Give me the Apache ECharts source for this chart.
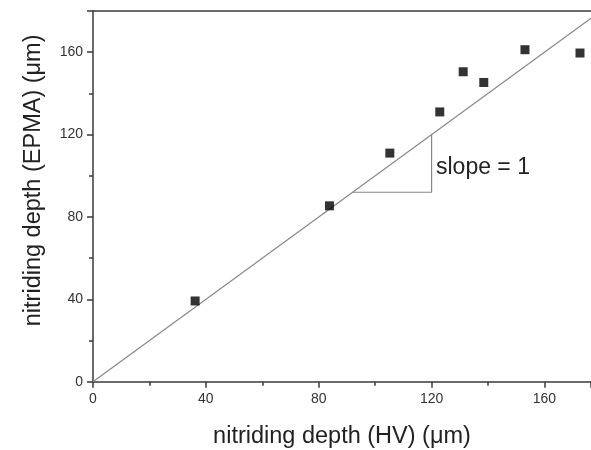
<!DOCTYPE html>
<html>
<head>
<meta charset="utf-8">
<script src="https://cdn.jsdelivr.net/npm/echarts@6/dist/echarts.min.js"></script>
<style>
html,body{margin:0;padding:0;background:#fff;}
#chart{width:591px;height:450px;}
</style>
</head>
<body>
<div id="chart"></div>
<script>
// Data
var hvDepth   = [36.2, 83.8, 105.2, 122.9, 131.2, 138.5, 153.1, 172.6];
var epmaDepth = [39.2, 85.4, 111.0, 131.0, 150.5, 145.3, 161.2, 159.6];
var unityLine = [[0, 0], [180, 180]];
var slopeTriangle = [[92, 92], [120, 92], [120, 120]];
var xTicks = [0, 40, 80, 120, 160];
var yTicks = [0, 40, 80, 120, 160];

var points = hvDepth.map(function (x, i) { return [x, epmaDepth[i]]; });

var chart = echarts.init(document.getElementById('chart'), null, {renderer: 'canvas'});
var font = 'Liberation Sans, Arial, sans-serif';
var axisColor = '#3a3a3a';

function axisCommon(name, gap, max, ticks) {
  return {
    type: 'value', min: 0, max: max, interval: 40,
    name: name, nameLocation: 'middle', nameGap: gap,
    nameTextStyle: {fontFamily: font, fontSize: 23.5, color: '#222'},
    axisLine: {show: true, lineStyle: {color: axisColor, width: 1.5}},
    axisTick: {show: true, length: 6, inside: false, lineStyle: {color: axisColor, width: 1.5}},
    minorTick: {show: true, splitNumber: 2, length: 4, lineStyle: {color: axisColor, width: 1.5}},
    splitLine: {show: false},
    axisLabel: {fontFamily: font, fontSize: 14, color: '#333', margin: 10, showMaxLabel: false,
      formatter: function (v) { return ticks.indexOf(v) >= 0 ? String(v) : ''; }}
  };
}

var xA = axisCommon('nitriding depth (HV) (\u03bcm)', 43, 176.5, xTicks);
var yA = axisCommon('nitriding depth (EPMA) (\u03bcm)', 47, 180, yTicks);
yA.nameTextStyle.padding = [0, 0, 0, 32];

var topAxis = {
  type: 'value', position: 'top', min: 0, max: 176.5,
  axisLine: {show: true, onZero: false, lineStyle: {color: axisColor, width: 1.5}},
  axisTick: {show: false}, axisLabel: {show: false}, splitLine: {show: false}
};

chart.setOption({
  animation: false,
  backgroundColor: '#fff',
  grid: {left: 93, top: 11, right: 0, height: 370.7, show: false,
    outerBoundsMode: 'none', containLabel: false},
  xAxis: [xA, topAxis],
  yAxis: yA,
  series: [
    {type: 'line', data: unityLine, symbol: 'none', silent: true,
      lineStyle: {color: '#888', width: 1.2}, z: 2},
    {type: 'line', data: slopeTriangle, symbol: 'none', silent: true,
      lineStyle: {color: '#888', width: 1.2}, z: 2},
    {type: 'scatter', data: points, symbol: 'rect', symbolSize: 9,
      itemStyle: {color: '#000'}, z: 3}
  ],
  graphic: [
    {type: 'text', left: 436, top: 156,
      style: {text: 'slope = 1', fontFamily: font, fontSize: 23, fill: '#222'}}
  ]
});
</script>
</body>
</html>
